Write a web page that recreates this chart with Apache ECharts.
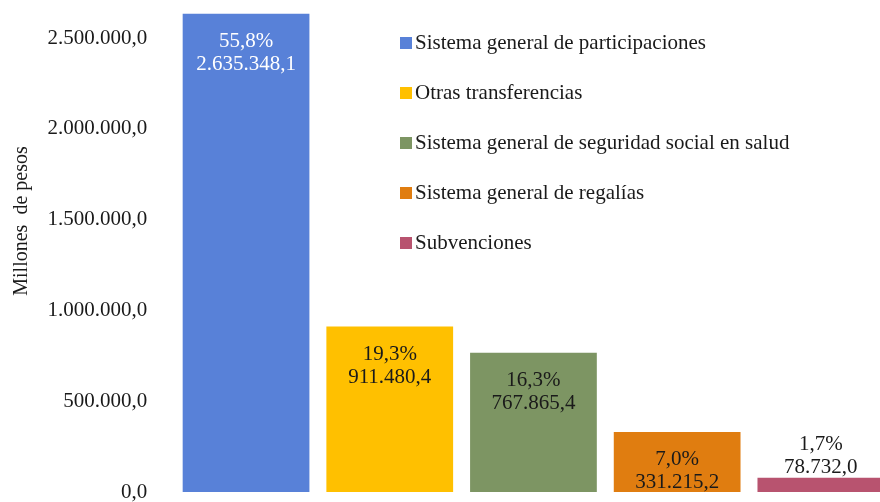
<!DOCTYPE html>
<html>
<head>
<meta charset="utf-8">
<script src="https://cdn.jsdelivr.net/npm/echarts@6/dist/echarts.min.js"></script>
<style>
  html, body { margin: 0; padding: 0; background: #fff; }
  #chart { width: 880px; height: 502px; }
</style>
</head>
<body>
<div id="chart"></div>
<script>
  // categories and values (millones de pesos)
  const categories = [
    'Sistema general de participaciones',
    'Otras transferencias',
    'Sistema general de seguridad social en salud',
    'Sistema general de regalías',
    'Subvenciones'
  ];
  const values = [2635348.1, 911480.4, 767865.4, 331215.2, 78732.0];
  const shares = [55.8, 19.3, 16.3, 7.0, 1.7];
  const colors = ['#5881D8', '#FFC000', '#7D9563', '#E07D10', '#B8536F'];

  const FONT = '"Liberation Serif", "Times New Roman", serif';

  function fmt(v, dec) {
    const parts = v.toFixed(dec).split('.');
    parts[0] = parts[0].replace(/\B(?=(\d{3})+(?!\d))/g, '.');
    return parts.join(',');
  }

  const chart = echarts.init(document.getElementById('chart'));
  chart.setOption({
    animation: false,
    textStyle: { fontFamily: FONT },
    grid: {
      left: 174.2, width: 718.5, top: 11, bottom: 10,
      containLabel: false, outerBoundsMode: 'none'
    },
    legend: {
      orient: 'vertical',
      left: 395,
      top: 27,
      itemWidth: 12,
      itemHeight: 12,
      itemGap: 28,
      icon: 'rect',
      textStyle: { fontFamily: FONT, fontSize: 21, color: '#1a1a1a', lineHeight: 22, padding: [0, 0, 0, -2] },
      data: categories
    },
    xAxis: {
      type: 'category',
      data: categories,
      axisLine: { show: false },
      axisTick: { show: false },
      axisLabel: { show: false }
    },
    yAxis: {
      type: 'value',
      min: 0,
      max: 2650000,
      interval: 500000,
      axisLine: { show: false },
      axisTick: { show: false },
      splitLine: { show: false },
      axisLabel: {
        showMaxLabel: false,
        margin: 27,
        fontFamily: FONT,
        fontSize: 21,
        color: '#1a1a1a',
        formatter: v => fmt(v, 1)
      }
    },
    graphic: [{
      type: 'text',
      x: 12,
      y: 221,
      rotation: Math.PI / 2,
      style: {
        text: 'Millones  de pesos',
        font: '20px ' + FONT,
        fill: '#1a1a1a',
        align: 'center',
        verticalAlign: 'top'
      }
    }],
    series: categories.map((name, i) => ({
      name: name,
      type: 'bar',
      stack: 'total',
      barCategoryGap: '11.8%',
      itemStyle: { color: colors[i] },
      label: {
        show: true,
        position: i === 4 ? 'top' : 'insideTop',
        distance: i === 4 ? -1 : 16,
        fontFamily: FONT,
        fontSize: 21,
        lineHeight: 23,
        align: 'center',
        color: i === 0 ? '#ffffff' : '#1a1a1a',
        formatter: () => fmt(shares[i], 1) + '%\n' + fmt(values[i], 1)
      },
      data: categories.map((c, j) => (j === i ? values[i] : '-'))
    }))
  });
</script>
</body>
</html>
